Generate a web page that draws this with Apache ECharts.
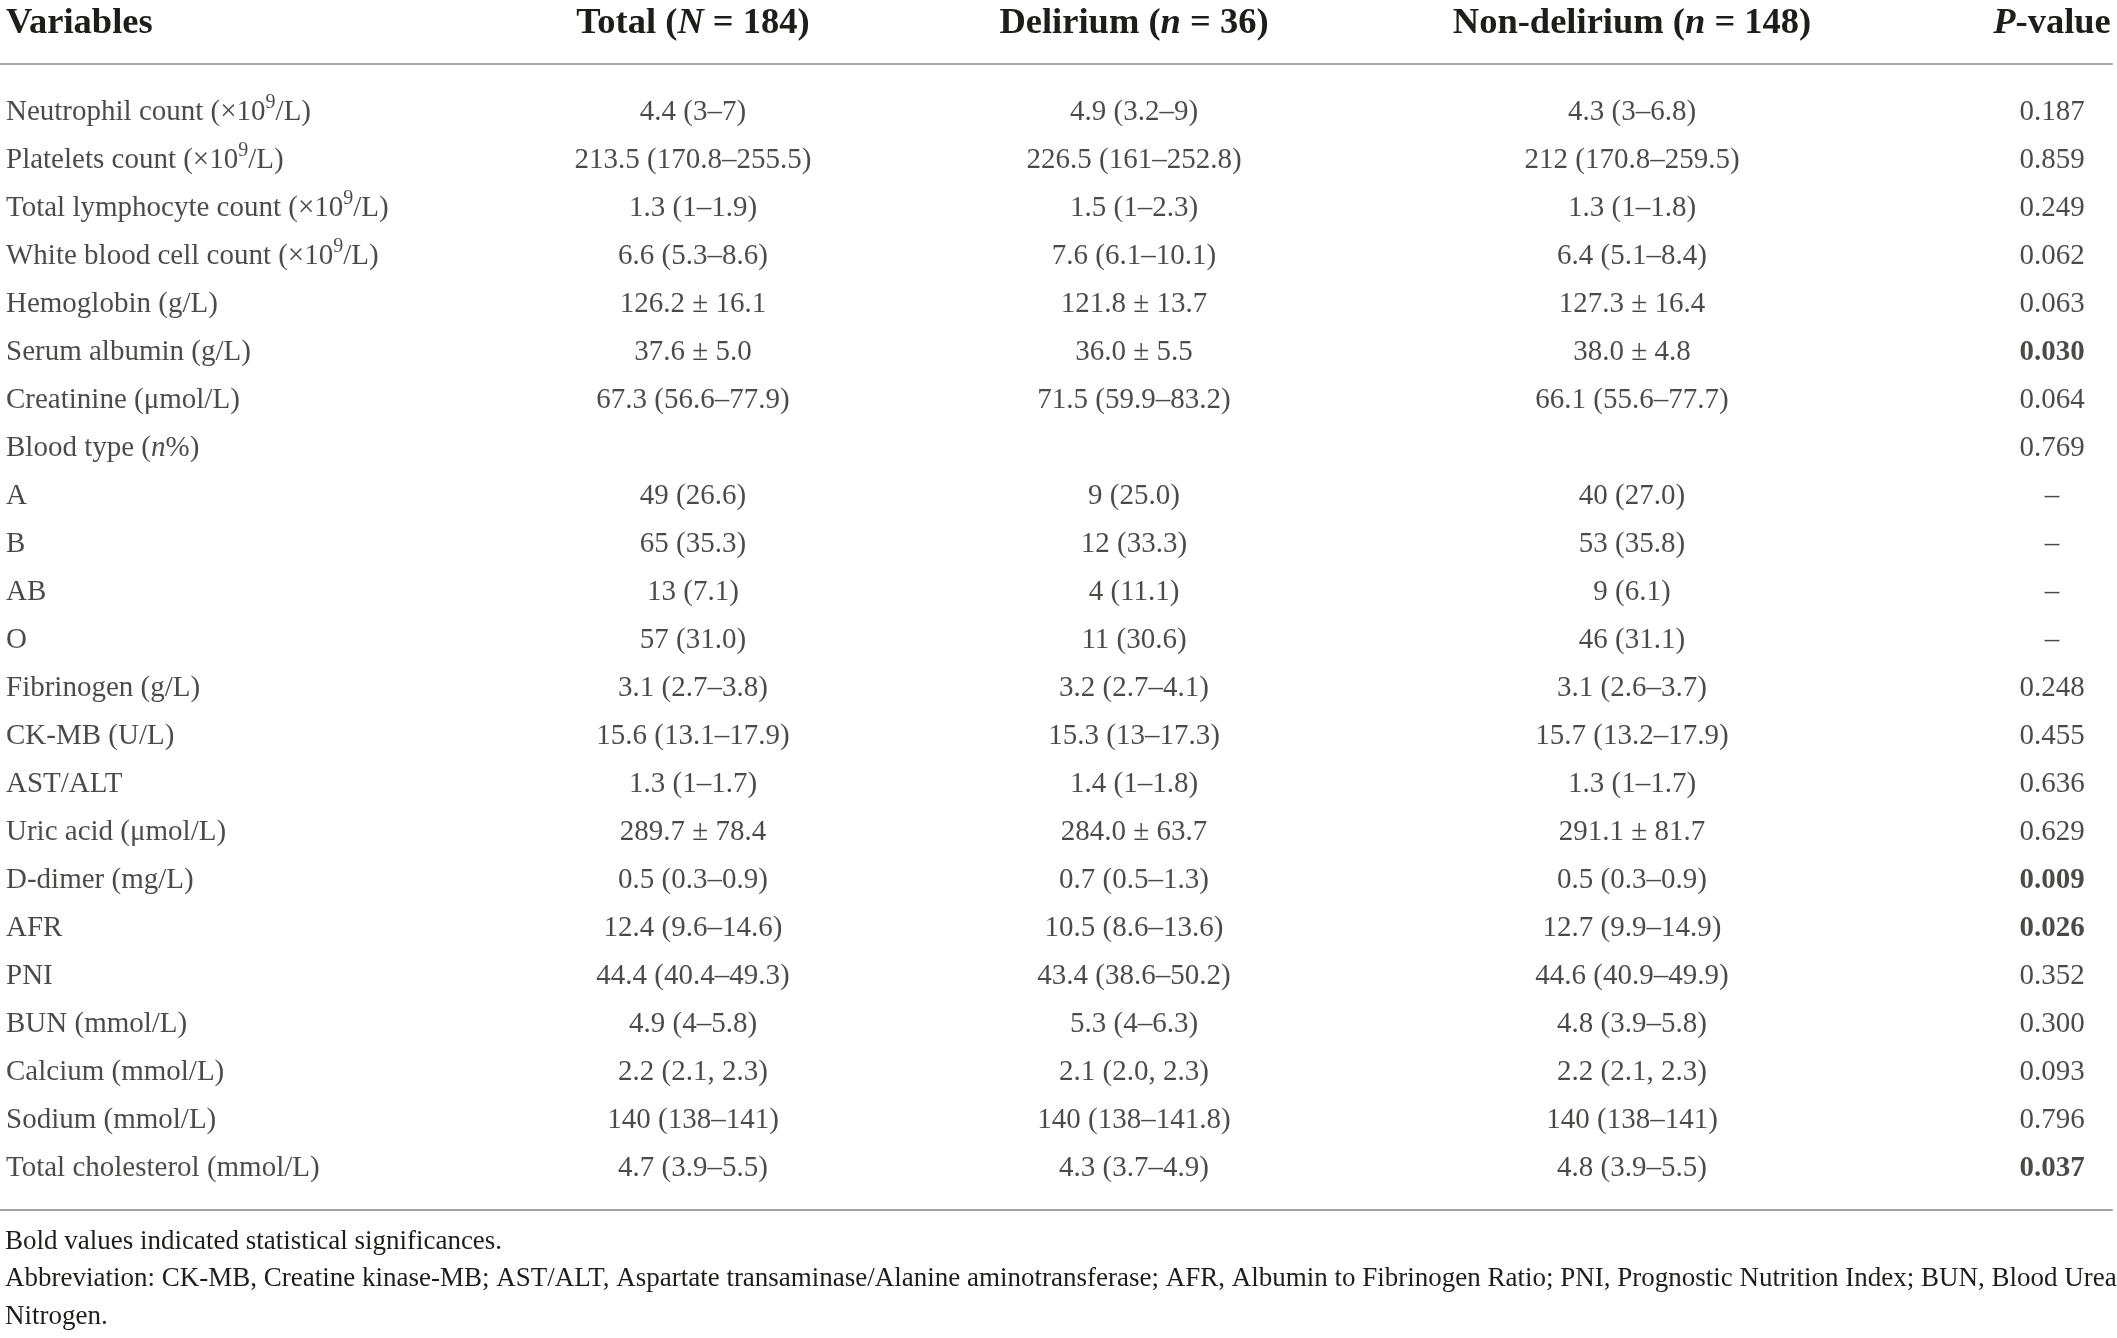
<!DOCTYPE html>
<html>
<head>
<meta charset="utf-8">
<script src="https://cdn.jsdelivr.net/npm/echarts@6/dist/echarts.min.js"></script>
<style>
  html, body { margin: 0; padding: 0; background: #fff; }
  #main { width: 2117px; height: 1338px; }
</style>
</head>
<body>
<div id="main"></div>
<script>
// table content: ^9 = superscript, *x* = italic
var headers = ['Variables', 'Total (*N* = 184)', 'Delirium (*n* = 36)', 'Non-delirium (*n* = 148)', '*P*-value'];

var variables = [
    'Neutrophil count (×10^9/L)', 'Platelets count (×10^9/L)', 'Total lymphocyte count (×10^9/L)',
    'White blood cell count (×10^9/L)', 'Hemoglobin (g/L)', 'Serum albumin (g/L)', 'Creatinine (μmol/L)',
    'Blood type (*n*%)', 'A', 'B', 'AB', 'O', 'Fibrinogen (g/L)', 'CK-MB (U/L)', 'AST/ALT',
    'Uric acid (μmol/L)', 'D-dimer (mg/L)', 'AFR', 'PNI', 'BUN (mmol/L)', 'Calcium (mmol/L)',
    'Sodium (mmol/L)', 'Total cholesterol (mmol/L)'
];

var totalValues = [
    '4.4 (3–7)', '213.5 (170.8–255.5)', '1.3 (1–1.9)', '6.6 (5.3–8.6)', '126.2 ± 16.1', '37.6 ± 5.0',
    '67.3 (56.6–77.9)', '', '49 (26.6)', '65 (35.3)', '13 (7.1)', '57 (31.0)', '3.1 (2.7–3.8)',
    '15.6 (13.1–17.9)', '1.3 (1–1.7)', '289.7 ± 78.4', '0.5 (0.3–0.9)', '12.4 (9.6–14.6)',
    '44.4 (40.4–49.3)', '4.9 (4–5.8)', '2.2 (2.1, 2.3)', '140 (138–141)', '4.7 (3.9–5.5)'
];

var deliriumValues = [
    '4.9 (3.2–9)', '226.5 (161–252.8)', '1.5 (1–2.3)', '7.6 (6.1–10.1)', '121.8 ± 13.7', '36.0 ± 5.5',
    '71.5 (59.9–83.2)', '', '9 (25.0)', '12 (33.3)', '4 (11.1)', '11 (30.6)', '3.2 (2.7–4.1)',
    '15.3 (13–17.3)', '1.4 (1–1.8)', '284.0 ± 63.7', '0.7 (0.5–1.3)', '10.5 (8.6–13.6)',
    '43.4 (38.6–50.2)', '5.3 (4–6.3)', '2.1 (2.0, 2.3)', '140 (138–141.8)', '4.3 (3.7–4.9)'
];

var nonDeliriumValues = [
    '4.3 (3–6.8)', '212 (170.8–259.5)', '1.3 (1–1.8)', '6.4 (5.1–8.4)', '127.3 ± 16.4', '38.0 ± 4.8',
    '66.1 (55.6–77.7)', '', '40 (27.0)', '53 (35.8)', '9 (6.1)', '46 (31.1)', '3.1 (2.6–3.7)',
    '15.7 (13.2–17.9)', '1.3 (1–1.7)', '291.1 ± 81.7', '0.5 (0.3–0.9)', '12.7 (9.9–14.9)',
    '44.6 (40.9–49.9)', '4.8 (3.9–5.8)', '2.2 (2.1, 2.3)', '140 (138–141)', '4.8 (3.9–5.5)'
];

var pValues = [
    '0.187', '0.859', '0.249', '0.062', '0.063', '0.030', '0.064', '0.769', '–', '–', '–', '–',
    '0.248', '0.455', '0.636', '0.629', '0.009', '0.026', '0.352', '0.300', '0.093', '0.796', '0.037'
];

var footnote = 'Bold values indicated statistical significances.\n' +
    'Abbreviation: CK-MB, Creatine kinase-MB; AST/ALT, Aspartate transaminase/Alanine aminotransferase; AFR, Albumin to Fibrinogen Ratio; PNI, Prognostic Nutrition Index; BUN, Blood Urea\n' +
    'Nitrogen.';

// layout
var FONT = 'Liberation Serif';
var INK = '#1d1d1b';
var colCenters = [6, 693, 1134, 1632, 2052];
var colAlign = ['left', 'center', 'center', 'center', 'center'];
var columns = [variables, totalValues, deliriumValues, nonDeliriumValues, pValues];

var richBody = {
    sup: { fontFamily: FONT, fontSize: 20, color: INK, padding: [0, 0, 20, 0] },
    it: { fontFamily: FONT, fontSize: 29, color: INK, fontStyle: 'italic' },
    b: { fontFamily: FONT, fontSize: 29, color: INK, fontWeight: 'bold' }
};
var richHead = {
    it: { fontFamily: FONT, fontSize: 36.5, color: INK, fontStyle: 'italic', fontWeight: 'bold' }
};

var toRich = function (s) {
    return s.replace(/\^(\w)/g, '{sup|$1}').replace(/\*(.+?)\*/g, '{it|$1}');
};

var grids = [], xAxes = [], yAxes = [], series = [];

colCenters.forEach(function (cx, c) {
    grids.push({ left: cx - 1, width: 2, top: 88.5, height: 1104 });
    xAxes.push({
        type: 'category', gridIndex: c, position: 'top', data: [headers[c]],
        axisLine: { show: false }, axisTick: { show: false },
        axisLabel: {
            interval: 0, margin: 65, verticalAlign: 'middle', align: colAlign[c],
            fontFamily: FONT, fontSize: 36.5, fontWeight: 'bold', color: INK,
            formatter: toRich, rich: richHead
        }
    });
    yAxes.push({ type: 'category', gridIndex: c, inverse: true, data: variables, show: false });
    series.push({
        type: 'scatter', xAxisIndex: c, yAxisIndex: c, silent: true,
        symbolSize: 1, itemStyle: { color: 'transparent' },
        data: columns[c].map(function (v, i) { return [0, i, v]; }),
        label: {
            show: true, position: 'inside', align: colAlign[c], verticalAlign: 'middle',
            fontFamily: FONT, fontSize: 29, color: INK, rich: richBody,
            formatter: function (p) {
                var t = p.data[2];
                if (c === 4 && parseFloat(t) < 0.05) return '{b|' + t + '}';
                return toRich(t);
            }
        }
    });
});

// rules above and below the body
grids.push({ left: 0, right: 5, top: 64, bottom: 128 });
[ 'top', 'bottom' ].forEach(function (pos) {
    xAxes.push({
        type: 'category', gridIndex: 5, position: pos, data: [''],
        axisLine: { onZero: false, lineStyle: { color: '#a3a3a3', width: 2 } },
        axisTick: { show: false }, axisLabel: { show: false }
    });
});
yAxes.push({ type: 'value', gridIndex: 5, show: false });

var myChart = echarts.init(document.getElementById('main'));

var option = {
    backgroundColor: '#fff',
    animation: false,
    title: {
        text: footnote, left: 5, top: 1223, padding: 0,
        textStyle: { fontFamily: FONT, fontSize: 27, fontWeight: 'normal', color: INK, lineHeight: 37.5 }
    },
    grid: grids,
    xAxis: xAxes,
    yAxis: yAxes,
    series: series
};

myChart.setOption(option);
</script>
</body>
</html>
